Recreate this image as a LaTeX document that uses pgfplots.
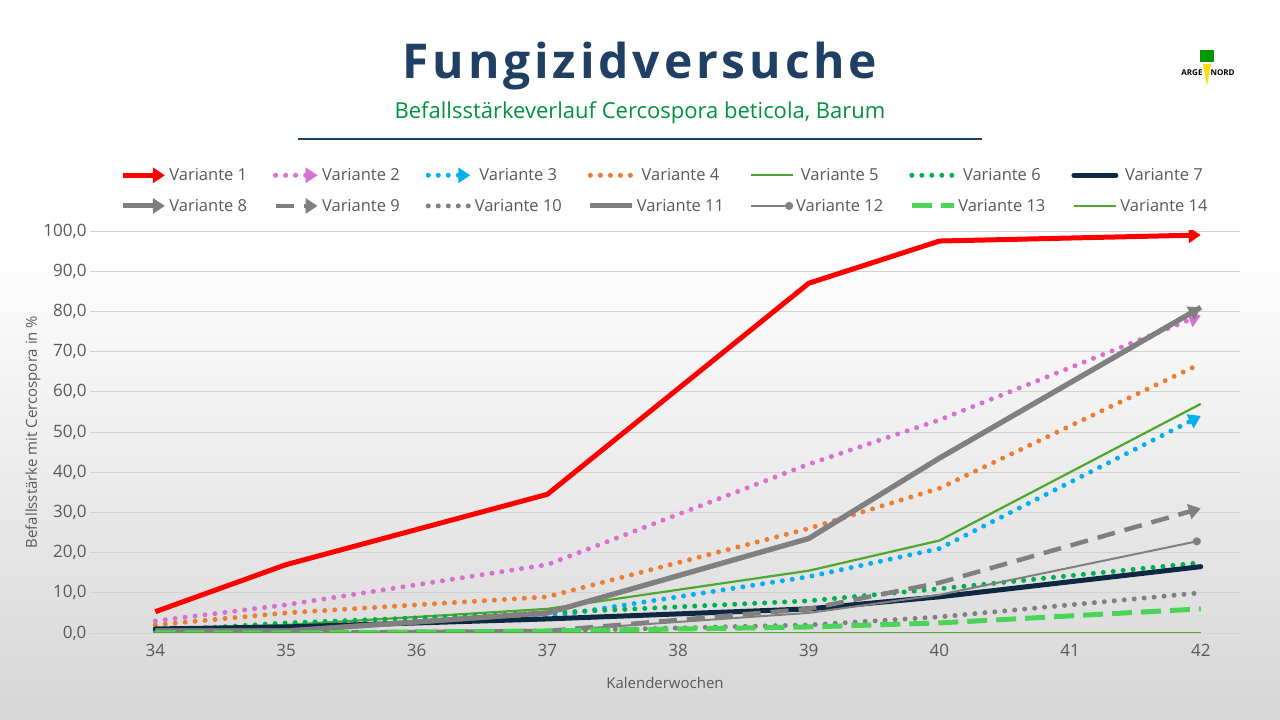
\documentclass[border=0pt]{standalone}
\usepackage{pgfplots}
\pgfplotsset{compat=1.18}
\usepackage{fontspec}
\setmainfont{Open Sans}
\usetikzlibrary{arrows.meta,calc,backgrounds}
\definecolor{tblue}{HTML}{1F3F63}
\definecolor{tgreen}{HTML}{00923F}
\definecolor{gtxt}{HTML}{595959}
\definecolor{cpink}{HTML}{DA6FD2}
\definecolor{cblue}{HTML}{00B0F0}
\definecolor{corange}{HTML}{ED7D31}
\definecolor{cg5}{HTML}{4EA72E}
\definecolor{cg6}{HTML}{00B050}
\definecolor{cg13}{HTML}{4CD45A}
\definecolor{cnavy}{HTML}{0E2841}
\definecolor{cgray}{HTML}{808080}
\begin{document}
\begin{tikzpicture}[x=1pt,y=1pt]
\begin{axis}[name=ax,scale only axis,width=1150pt,height=402pt,
  xmin=33.5,xmax=42.3,ymin=0,ymax=100,
  xtick={34,...,42},ytick={0,10,...,100},
  ymajorgrids,grid style={gray!35,line width=0.8pt},
  axis line style={draw=none},tick style={draw=none},
  ticklabel style={font=\fontsize{17}{20}\selectfont,text=gtxt},
  yticklabel={\pgfmathprintnumber[fixed,fixed zerofill,precision=1,use comma]{\tick}},
  /pgf/number format/assume math mode=true,
  xticklabel style={yshift=-8pt},
  xlabel={Kalenderwochen},ylabel={Befallsstärke mit Cercospora in \%},
  label style={font=\fontsize{15}{18}\selectfont,text=gtxt},
  xlabel style={yshift=-13pt},ylabel style={yshift=-4pt},
  legend columns=7,
  legend style={at={(0.5,1.035)},anchor=south,draw=none,fill=none,font=\fontsize{16.5}{19}\selectfont,text=gtxt,
    /tikz/every even column/.append style={column sep=24pt},row sep=13pt},
  legend image code/.code={\draw[#1] (0pt,0pt) -- (42pt,0pt);},
  every axis plot/.append style={line join=round},
]
\addplot[red,line width=5pt,-{Triangle[length=12pt,width=15pt]}] coordinates {(34,5.3)(35,17)(37,34.5)(39,87)(40,97.5)(42,99)};
\addlegendentry{Variante 1}
\addplot[cpink,line width=5pt,line cap=round,dash pattern=on 0pt off 10pt,-{Triangle[length=12pt,width=15pt]}] coordinates {(34,3)(35,7)(37,17)(39,42)(40,53)(42,79)};
\addlegendentry{Variante 2}
\addplot[cblue,line width=5pt,line cap=round,dash pattern=on 0pt off 10pt,-{Triangle[length=12pt,width=15pt]}] coordinates {(34,1)(35,1.5)(37,4)(39,14)(40,21)(42,54)};
\addlegendentry{Variante 3}
\addplot[corange,line width=5pt,line cap=round,dash pattern=on 0pt off 10pt] coordinates {(34,2)(35,5)(37,9)(39,26)(40,36)(42,67)};
\addlegendentry{Variante 4}
\addplot[cg5,line width=2.2pt] coordinates {(34,1)(35,2)(37,6)(39,15.5)(40,23)(42,57)};
\addlegendentry{Variante 5}
\addplot[cg6,line width=5pt,line cap=round,dash pattern=on 0pt off 10pt] coordinates {(34,0.5)(35,2.5)(37,5)(39,8)(40,11)(42,17.5)};
\addlegendentry{Variante 6}
\addplot[cnavy,line width=5pt,line cap=round] coordinates {(34,1)(35,1.5)(37,3.5)(39,6)(40,9)(42,16.5)};
\addlegendentry{Variante 7}
\addplot[cgray,line width=5pt,-{Triangle[length=12pt,width=15pt]}] coordinates {(34,0.5)(35,0.5)(37,5)(39,23.5)(40,43.5)(42,81)};
\addlegendentry{Variante 8}
\addplot[cgray,line width=4.5pt,dash pattern=on 18pt off 10pt,-{Triangle[length=12pt,width=15pt]}] coordinates {(34,0)(35,0)(37,0.5)(39,6)(40,12.5)(42,31)};
\addlegendentry{Variante 9}
\addplot[cgray,line width=5pt,line cap=round,dash pattern=on 0pt off 10pt] coordinates {(34,0)(35,0)(37,0.5)(39,2)(40,4)(42,10)};
\addlegendentry{Variante 10}
\addplot[cgray,line width=5pt] coordinates {(34,0.5)(35,0.5)(37,5)(39,23.5)(40,43.5)(42,81)};
\addlegendentry{Variante 11}
\addplot[cgray,line width=2pt,-{Circle[length=8pt]}] coordinates {(34,0)(35,0)(37,0.5)(39,5)(40,9.5)(42,23)};
\addlegendentry{Variante 12}
\addplot[cg13,line width=5pt,dash pattern=on 20pt off 9pt] coordinates {(34,0)(35,0)(37,0.5)(39,1.5)(40,2.5)(42,6)};
\addlegendentry{Variante 13}
\addplot[cg5,line width=2pt] coordinates {(34,0)(35,0)(37,0)(39,0)(40,0)(42,0)};
\addlegendentry{Variante 14}
\end{axis}
\begin{scope}[shift={($(ax.south west)-(90,87)$)}]
\begin{pgfonlayer}{background}
\fill[white] (0,470) rectangle (1280,720);
\shade[top color=white,bottom color=white!84!black] (0,0) rectangle (1280,470.5);
\end{pgfonlayer}
\node[font=\bfseries\fontsize{48}{52}\selectfont,text=tblue] at (640,654) {\addfontfeature{LetterSpace=8}Fungizidversuche};
\node[font=\fontsize{22}{26}\selectfont,text=tgreen] at (640,607) {Befallsstärkeverlauf Cercospora beticola, Barum};
\draw[tblue,line width=2pt] (298,581) -- (982,581);
\node[font=\bfseries\fontsize{8}{9}\selectfont] at (1208,647) {ARGE\quad NORD};
\fill[green!60!black] (1200,658) rectangle (1214,670);
\fill[yellow!80!orange] (1203,656) -- (1211,656) -- (1207,634) -- cycle;
\end{scope}
\end{tikzpicture}
\end{document}
